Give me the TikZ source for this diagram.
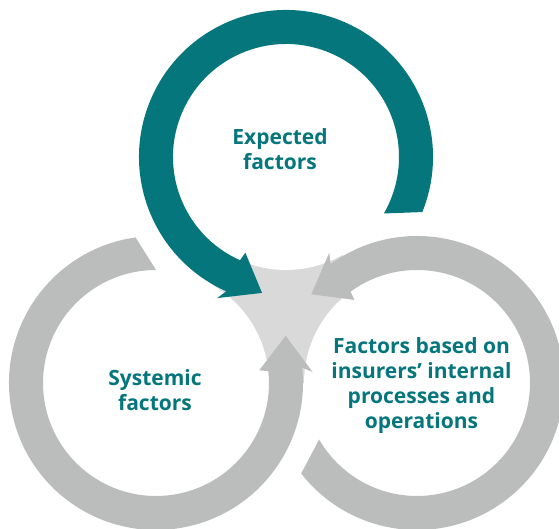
\documentclass[tikz,border=0pt]{standalone}
\usepackage{fontspec}
\setmainfont{Open Sans}
\definecolor{tealring}{RGB}{6,118,125}
\definecolor{ringgray}{RGB}{187,189,188}
\definecolor{centergray}{RGB}{217,217,217}
\newcommand{\cyclearrow}[3]{%
  \fill[#3, shift={(#1)}, rotate=#2]
    (-22:147pt) arc[start angle=-22, end angle=246, radius=147pt]
    -- (244:157pt) -- (260:138pt) -- (247:104pt) -- (246:113pt)
    arc[start angle=246, end angle=-30, radius=113pt] -- cycle;}
\begin{document}
\begin{tikzpicture}[x=1pt,y=1pt,
  label text/.style={text=tealring, align=center,
    font=\fontsize{21}{25}\selectfont\bfseries, inner sep=0pt}]
\useasboundingbox (0,0) rectangle (559,529);
\clip (0,0) rectangle (559,529);
\coordinate (T) at (286,372);
\coordinate (L) at (156,146);
\coordinate (R) at (417,146);
\fill[centergray] (T) -- (L) -- (R) -- cycle;
\foreach \c in {T,L,R} \fill[white] (\c) circle[radius=113pt];
\cyclearrow{T}{0}{tealring}
\cyclearrow{L}{120}{ringgray}
\cyclearrow{R}{240}{ringgray}
\node[label text] (expected) at (280,379.5) {Expected\\factors};
\node[label text] (systemic) at (155,139) {Systemic\\factors};
\node[label text] (internal) at (421.5,143) {Factors based on\\insurers’ internal\\processes and\\operations};
\end{tikzpicture}
\end{document}
